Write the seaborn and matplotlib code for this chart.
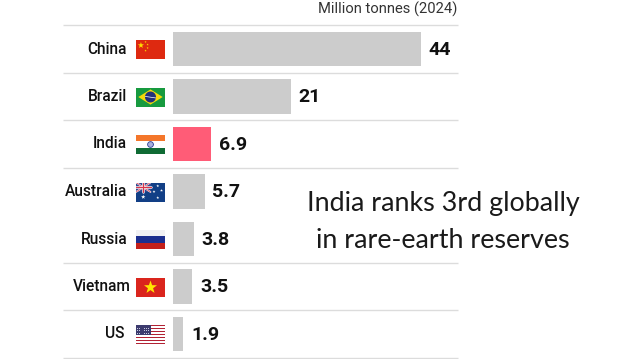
import numpy as np
import pandas as pd
import matplotlib
matplotlib.use('Agg')
import matplotlib.pyplot as plt
from matplotlib.patches import Polygon, Rectangle
import seaborn as sns

countries = ['China', 'Brazil', 'India', 'Australia', 'Russia', 'Vietnam', 'US']
reserves = [44, 21, 6.9, 5.7, 3.8, 3.5, 1.9]
value_labels = ['44', '21', '6.9', '5.7', '3.8', '3.5', '1.9']
rules_after = [-1, 0, 1, 2, 4, 5, 6]
unit_label = 'Million tonnes (2024)'
note = 'India ranks 3rd globally\nin rare-earth reserves'

W, H = 622, 359
GREY = '#cccccc'
PINK = '#ff5c77'
RULE = '#dcdcdc'
INK = '#111111'

# pixel layout of the reference
X0 = 172.5
PX_PER_UNIT = 248 / 44
Y0 = 49
ROW = 47.5

sns.set_theme(style='white')
plt.rcParams['font.family'] = ['Roboto', 'DejaVu Sans']

df = pd.DataFrame({'country': countries, 'reserves': reserves})

fig = plt.figure(figsize=(W / 100, H / 100), dpi=100)
ax = fig.add_axes([0, 0, 1, 1])
sns.barplot(data=df, x='reserves', y='country', hue='country',
            palette=[PINK if c == 'India' else GREY for c in countries],
            width=0.735, legend=False, saturation=1, linewidth=0, ax=ax)
ax.set_xlim(-X0 / PX_PER_UNIT, (W - X0) / PX_PER_UNIT)
ax.set_ylim((H - Y0) / ROW, -Y0 / ROW)
ax.axis('off')

for r in rules_after:
    ax.plot([(63 - X0) / PX_PER_UNIT, (458 - X0) / PX_PER_UNIT], [r + 0.5, r + 0.5],
            color=RULE, lw=1, zorder=0, solid_capstyle='butt')

for i, c in enumerate(countries):
    right = {'Vietnam': 131, 'US': 124}.get(c, 127)
    ax.text((right - X0) / PX_PER_UNIT, i, c, ha='right', va='center',
            fontsize=11.2, fontweight='medium', color=INK)
    ax.annotate(value_labels[i], (reserves[i], i), xytext=(5.6, -0.5), textcoords='offset points',
                ha='left', va='center', fontsize=14, fontweight='bold', color=INK)

ax.text((457 - X0) / PX_PER_UNIT, -Y0 / ROW + 9 / ROW, unit_label, ha='right', va='center',
        fontsize=10.6, color='#333333')
ax.text((443 - X0) / PX_PER_UNIT, (222.5 - Y0) / ROW, note, ha='center', va='center',
        fontsize=19.4, color='#1a1a1a', linespacing=1.6, family=['Lato', 'DejaVu Sans'])


def stripes(fa, colors, bounds):
    for col, (lo, hi) in zip(colors, bounds):
        fa.add_patch(Rectangle((0, lo), 1, hi - lo, color=col, lw=0))


def star(fa, x, y, r, col):
    ang = np.pi / 2 + np.arange(10) * np.pi / 5
    rad = np.where(np.arange(10) % 2 == 0, r, r * 0.4)
    # r is in flag-height units, width is 29/19 of height
    fa.add_patch(Polygon(np.c_[x + rad * np.cos(ang) * 19 / 29, y + rad * np.sin(ang)],
                         color=col, lw=0))


def flag_china(fa):
    stripes(fa, ['#de2910'], [(0, 1)])
    star(fa, 0.17, 0.72, 0.17, '#ffde00')
    for x, y in [(0.33, 0.9), (0.4, 0.76), (0.4, 0.58), (0.33, 0.44)]:
        star(fa, x, y, 0.06, '#ffde00')


def flag_brazil(fa):
    stripes(fa, ['#179a3f'], [(0, 1)])
    fa.add_patch(Polygon([(0.08, 0.5), (0.5, 0.9), (0.92, 0.5), (0.5, 0.1)], color='#f5d90a', lw=0))
    fa.add_patch(Polygon(np.c_[0.5 + 0.19 * np.cos(np.linspace(0, 6.3, 40)),
                               0.5 + 0.29 * np.sin(np.linspace(0, 6.3, 40))],
                         color='#22307a', lw=0))
    fa.plot([0.32, 0.68], [0.53, 0.45], color='white', lw=0.5)


def flag_india(fa):
    stripes(fa, ['#f4762a', 'white', '#0f6b34'], [(2 / 3, 1), (1 / 3, 2 / 3), (0, 1 / 3)])
    fa.add_patch(Polygon(np.c_[0.5 + 0.1 * np.cos(np.linspace(0, 6.3, 24)),
                               0.5 + 0.15 * np.sin(np.linspace(0, 6.3, 24))],
                         fc='#aab0dc', ec='#2c3f94', lw=0.6))


def flag_australia(fa):
    stripes(fa, ['#123f86'], [(0, 1)])
    fa.add_patch(Rectangle((0, 0.5), 0.5, 0.5, color='#30478f', lw=0))
    fa.plot([0, 0.5], [0.5, 1], color='white', lw=1.2)
    fa.plot([0, 0.5], [1, 0.5], color='white', lw=1.2)
    fa.plot([0, 0.5], [0.5, 1], color='#d8344a', lw=0.5)
    fa.plot([0, 0.5], [1, 0.5], color='#d8344a', lw=0.5)
    fa.plot([0.25, 0.25], [0.5, 1], color='white', lw=1.8)
    fa.plot([0, 0.5], [0.75, 0.75], color='white', lw=1.8)
    fa.plot([0.25, 0.25], [0.5, 1], color='#d8344a', lw=0.9)
    fa.plot([0, 0.5], [0.75, 0.75], color='#d8344a', lw=0.9)
    star(fa, 0.25, 0.24, 0.12, 'white')
    for x, y in [(0.75, 0.82), (0.75, 0.2), (0.62, 0.52), (0.88, 0.58)]:
        star(fa, x, y, 0.08, 'white')


def flag_russia(fa):
    stripes(fa, ['#f1f1f4', '#1c2f8f', '#c4201a'], [(2 / 3, 1), (1 / 3, 2 / 3), (0, 1 / 3)])


def flag_vietnam(fa):
    stripes(fa, ['#da251d'], [(0, 1)])
    star(fa, 0.5, 0.48, 0.36, '#ffe600')


def flag_us(fa):
    for k in range(13):
        fa.add_patch(Rectangle((0, k / 13), 1, 1 / 13, color='#b22234' if k % 2 == 0 else 'white', lw=0))
    fa.add_patch(Rectangle((0, 6 / 13), 0.5, 7 / 13, color='#3c3b6e', lw=0))
    for row in range(5):
        for col in range(6):
            fa.add_patch(Rectangle((0.03 + col * 0.08, 0.52 + row * 0.09), 0.03, 0.04,
                                   color='#c9cbe0', lw=0))


flags = [flag_china, flag_brazil, flag_india, flag_australia, flag_russia, flag_vietnam, flag_us]
for i, draw in enumerate(flags):
    cy = Y0 + ROW * i + 0.5
    fa = fig.add_axes([136 / W, 1 - (cy + 9.5) / H, 29 / W, 19 / H])
    fa.set_xlim(0, 1)
    fa.set_ylim(0, 1)
    fa.axis('off')
    draw(fa)

fig.savefig('out.png', dpi=100)
